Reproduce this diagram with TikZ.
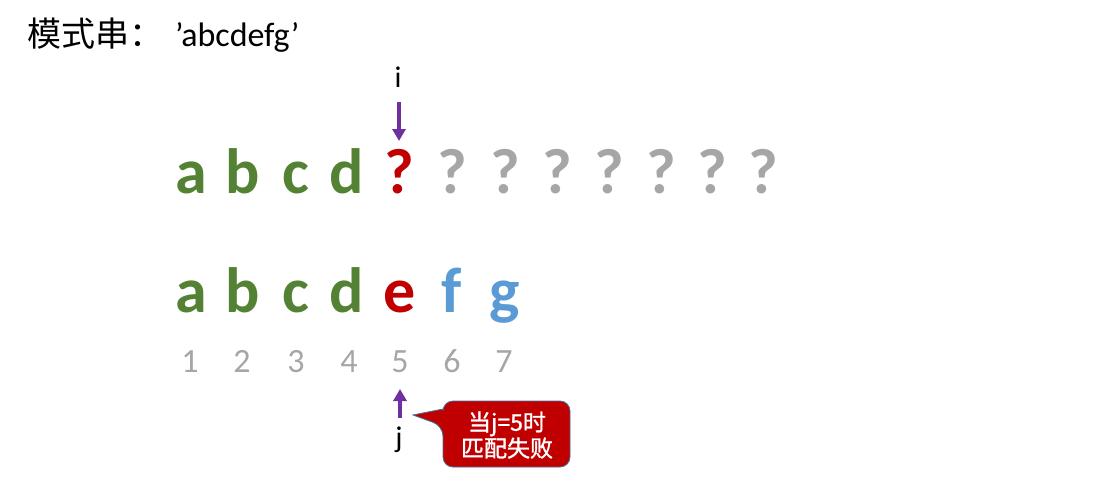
\documentclass[tikz,border=0pt]{standalone}
\usepackage{fontspec}
\setmainfont{Carlito}
\newfontfamily\cjk{Noto Sans CJK SC}
\newfontfamily\cjkfb[FakeBold=1.3]{Noto Sans CJK SC}
\usetikzlibrary{arrows.meta}
\definecolor{cgreen}{HTML}{548235}
\definecolor{cred}{HTML}{C00000}
\definecolor{cblue}{HTML}{5B9BD5}
\definecolor{cgray}{HTML}{A6A6A6}
\definecolor{cpurple}{HTML}{7030A0}
\definecolor{cborder}{HTML}{41719C}
\tikzset{
  big/.style={anchor=base, inner sep=0pt, font=\fontsize{64}{64}\selectfont\bfseries},
  num/.style={anchor=base, inner sep=0pt, text=cgray, font=\fontsize{34}{34}\selectfont},
  ptr/.style={draw=cpurple, line width=3.5pt, -{Triangle[length=12pt,width=13pt]}},
  lbl/.style={inner sep=0pt, font=\fontsize{30}{30}\selectfont},
  callbox/.style={fill=cred, draw=cborder, line width=0.8pt},
}
\begin{document}
\begin{tikzpicture}[x=1pt,y=-1pt]
\useasboundingbox (0,0) rectangle (1120,487);
\node[anchor=west, inner sep=0pt, font=\fontsize{34}{34}\selectfont] (title) at (27,35) {{\cjk 模式串：}\hspace{12pt}’abcdefg’};
% top row
\foreach \x/\t/\c [count=\k] in {191/a/cgreen,243/b/cgreen,296/c/cgreen,347/d/cgreen,399/?/cred,452/?/cgray,505/?/cgray,557/?/cgray,609/?/cgray,661/?/cgray,712/?/cgray,763/?/cgray}
  \node[big, text=\c] (t\k) at (\x,193) {\t};
% bottom row
\foreach \x/\t/\c [count=\k] in {191/a/cgreen,243/b/cgreen,296/c/cgreen,347/d/cgreen,400/e/cred,452/f/cblue,505/g/cblue}
  \node[big, text=\c] (p\k) at (\x,312) {\t};
\foreach \x [count=\k] in {190,242,296,349,400,452,504}
  \node[num] (n\k) at (\x,372) {\k};
% pointer i
\node[lbl] (i) at (398,77) {i};
\coordinate (itop) at (399,102);
\coordinate (ibot) at (399,141);
\draw[ptr] (itop) -- (ibot);
% pointer j
\node[lbl] (j) at (399,440) {j};
\coordinate (jbot) at (400,418);
\coordinate (jtop) at (400,389);
\draw[ptr] (jbot) -- (jtop);
% callout
\coordinate (tip) at (413,415);
\draw[callbox, rounded corners=10pt] (443,401) -- (570,401) -- (570,467) -- (443,467)
  -- (443,426) [sharp corners] -- (tip) -- (443,409) [rounded corners=10pt] -- cycle;
\node[text=white, align=center, inner sep=0pt,
      font=\cjkfb\fontsize{23}{26}\selectfont] (call) at (507,435) {当j=5时\\匹配失败};
\end{tikzpicture}
\end{document}
